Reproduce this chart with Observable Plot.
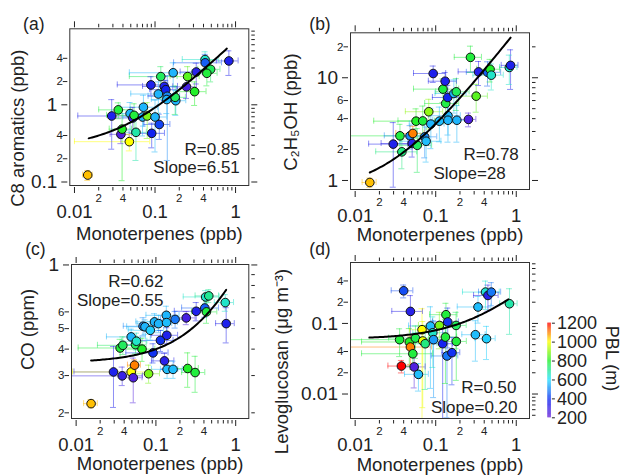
<!DOCTYPE html>
<html><head><meta charset="utf-8">
<script src="https://cdn.jsdelivr.net/npm/d3@7"></script>
<script src="https://cdn.jsdelivr.net/npm/@observablehq/plot@0.6"></script>
<style>
body{margin:0;background:#fff;}
#chart{position:relative;width:622px;height:476px;overflow:hidden;background:#fff;}
#chart svg{position:absolute;overflow:visible;}
</style></head><body><div id="chart"></div>
<script>
// ---------- colour scale (PBL, m) ----------
const pblStops = [200, 380, 600, 800, 1000, 1200];
const pblColors = ["#6a1fd8", "#1022f0", "#22e0ff", "#22f028", "#ffff00", "#ff0000"];
const pblTicks = [200, 400, 600, 800, 1000, 1200];

// ---------- shared x ticks (Monoterpenes, ppb) ----------
const xMajor = [0.01, 0.1, 1];
const xMinorLabeled = [0.02, 0.04, 0.2, 0.4];
const xMinor = [0.02, 0.03, 0.04, 0.05, 0.06, 0.07, 0.08, 0.09, 0.2, 0.3, 0.4, 0.5, 0.6, 0.7, 0.8, 0.9];

// ---------- panel (a): C8 aromatics ----------
const aMono = [0.0146, 0.029, 0.035, 0.0377, 0.039, 0.048, 0.049, 0.053, 0.058, 0.055, 0.0718, 0.07, 0.080, 0.091, 0.1, 0.089, 0.113, 0.11, 0.118, 0.13, 0.136, 0.142, 0.14, 0.168, 0.181, 0.178, 0.254, 0.246, 0.31, 0.325, 0.418, 0.42, 0.49, 0.44, 0.826];
const aC8 = [0.123, 0.716, 0.86, 0.414, 0.484, 0.333, 0.77, 0.675, 0.44, 0.73, 0.93, 0.695, 0.716, 0.427, 0.695, 1.81, 0.556, 1.38, 2.32, 1.73, 1.57, 1.29, 1.17, 2.6, 1.13, 1.25, 2.32, 1.71, 1.48, 2.66, 3.86, 3.5, 2.88, 2.56, 3.7];
const aPBL = [1050, 350, 780, 250, 800, 1000, 550, 300, 680, 780, 550, 550, 880, 380, 550, 350, 420, 550, 750, 350, 380, 500, 550, 550, 550, 750, 850, 270, 800, 330, 650, 450, 750, 780, 350];
const aMonoErr = [0.002, 0.018, 0.015, 0.01, 0.012, 0.038, 0.02, 0.025, 0.02, 0.03, 0.035, 0.03, 0.03, 0.04, 0.04, 0.055, 0.04, 0.06, 0.07, 0.06, 0.05, 0.06, 0.05, 0.12, 0.06, 0.06, 0.1, 0.08, 0.12, 0.12, 0.2, 0.25, 0.15, 0.15, 0.25];
const aC8Err = [0.018, 0.45, 0.2, 0.1, 0.38, 0.08, 0.3, 0.25, 0.25, 0.3, 0.4, 0.3, 0.35, 0.15, 0.45, 0.5, 0.2, 0.6, 0.8, 0.6, 0.5, 1.1, 0.4, 0.9, 0.4, 0.5, 0.8, 0.5, 0.5, 0.8, 1.0, 1.0, 0.9, 0.8, 1.3];
const aYMajor = [0.1, 1];
const aYMinorLabeled = [0.2, 0.4, 2, 4];
const aYMinor = [0.2, 0.3, 0.4, 0.5, 0.6, 0.7, 0.8, 0.9, 2, 3, 4, 5, 6, 7, 8, 9];

// ---------- panel (b): C2H5OH ----------
const bMono = [0.0152, 0.0297, 0.036, 0.038, 0.048, 0.052, 0.051, 0.057, 0.059, 0.069, 0.073, 0.076, 0.082, 0.087, 0.093, 0.111, 0.123, 0.131, 0.133, 0.141, 0.142, 0.142, 0.168, 0.18, 0.183, 0.255, 0.27, 0.318, 0.34, 0.44, 0.473, 0.49, 0.82, 0.85];
const bEtOH = [0.956, 2.26, 2.72, 1.9, 2.72, 2.87, 2.29, 3.78, 2.2, 3.8, 2.66, 2.41, 4.67, 3.54, 11.0, 3.78, 7.75, 9.26, 5.62, 6.43, 4.27, 3.86, 7.03, 7.3, 3.86, 3.93, 15.8, 6.62, 11.4, 11.3, 12.1, 10.6, 12.6, 13.2];
const bPBL = [1050, 350, 780, 720, 500, 1100, 330, 800, 750, 780, 500, 560, 900, 550, 350, 560, 780, 350, 770, 380, 550, 550, 560, 750, 550, 260, 780, 850, 340, 450, 800, 650, 650, 350];
const bMonoErr = [0.003, 0.015, 0.028, 0.02, 0.025, 0.02, 0.03, 0.04, 0.03, 0.035, 0.03, 0.04, 0.04, 0.04, 0.04, 0.05, 0.07, 0.05, 0.06, 0.05, 0.06, 0.05, 0.07, 0.08, 0.07, 0.06, 0.1, 0.12, 0.15, 0.2, 0.15, 0.2, 0.2, 0.2];
const bEtOHErr = [0.1, 1.4, 0.8, 0.6, 0.7, 0.5, 0.6, 1.2, 1.0, 1.5, 1.0, 0.9, 1.5, 1.5, 2.0, 1.4, 2.0, 2.0, 2.0, 2.0, 1.5, 1.5, 2.5, 2.5, 1.5, 0.6, 4.5, 2.0, 3.0, 3.0, 3.0, 3.0, 4.0, 5.5];
const bYMajor = [1, 10];
const bYMinorLabeled = [2, 4, 6, 20];
const bYMinor = [2, 3, 4, 5, 6, 7, 8, 9, 20];

// ---------- panel (c): CO ----------
const cMono = [0.0154, 0.0294, 0.0356, 0.0385, 0.0378, 0.049, 0.049, 0.054, 0.052, 0.0555, 0.057, 0.067, 0.069, 0.073, 0.085, 0.081, 0.092, 0.096, 0.108, 0.114, 0.137, 0.128, 0.135, 0.136, 0.138, 0.164, 0.174, 0.24, 0.25, 0.31, 0.32, 0.41, 0.43, 0.42, 0.46, 0.74, 0.76];
const cCO = [0.221, 0.312, 0.405, 0.417, 0.299, 0.457, 0.312, 0.336, 0.293, 0.42, 0.436, 0.4, 0.513, 0.51, 0.491, 0.306, 0.384, 0.538, 0.528, 0.44, 0.465, 0.352, 0.578, 0.534, 0.321, 0.321, 0.553, 0.562, 0.324, 0.31, 0.604, 0.626, 0.6, 0.706, 0.714, 0.664, 0.528];
const cPBL = [1050, 350, 780, 750, 300, 550, 1000, 1100, 250, 750, 650, 800, 500, 550, 580, 880, 400, 550, 550, 400, 350, 330, 550, 560, 560, 560, 480, 270, 800, 780, 350, 450, 780, 650, 700, 650, 350];
const cMonoErr = [0.003, 0.02, 0.025, 0.02, 0.03, 0.025, 0.04, 0.01, 0.015, 0.02, 0.02, 0.03, 0.03, 0.03, 0.04, 0.03, 0.05, 0.04, 0.05, 0.05, 0.05, 0.04, 0.06, 0.05, 0.05, 0.05, 0.06, 0.07, 0.09, 0.1, 0.15, 0.2, 0.15, 0.2, 0.15, 0.2, 0.2];
const cCOErr = [0.01, 0.1, 0.04, 0.04, 0.03, 0.04, 0.02, 0.02, 0.07, 0.04, 0.04, 0.05, 0.05, 0.04, 0.05, 0.03, 0.04, 0.05, 0.05, 0.05, 0.04, 0.03, 0.06, 0.05, 0.03, 0.03, 0.05, 0.04, 0.06, 0.06, 0.06, 0.06, 0.07, 0.05, 0.05, 0.06, 0.1];
const cYMajor = [1];
const cYMinorLabeled = [0.2, 0.3, 0.4, 0.5, 0.6];
const cYMinor = [0.2, 0.3, 0.4, 0.5, 0.6, 0.7, 0.8, 0.9];

// ---------- panel (d): Levoglucosan ----------
const dMono = [0.0375, 0.04, 0.0356, 0.0485, 0.047, 0.0485, 0.052, 0.054, 0.056, 0.061, 0.0676, 0.069, 0.074, 0.086, 0.092, 0.094, 0.111, 0.122, 0.132, 0.134, 0.141, 0.138, 0.159, 0.179, 0.18, 0.311, 0.335, 0.427, 0.415, 0.445, 0.49, 0.824];
const dLevo = [0.0249, 0.29, 0.0589, 0.148, 0.0546, 0.0463, 0.0372, 0.0242, 0.062, 0.019, 0.0815, 0.0564, 0.0516, 0.092, 0.0738, 0.0589, 0.0937, 0.0516, 0.0641, 0.133, 0.105, 0.0346, 0.0385, 0.0937, 0.0556, 0.0692, 0.171, 0.0608, 0.278, 0.249, 0.278, 0.19];
const dPBL = [1200, 430, 780, 330, 800, 1100, 780, 250, 760, 560, 1000, 980, 720, 560, 650, 520, 880, 370, 780, 780, 400, 480, 400, 750, 780, 560, 560, 580, 640, 330, 480, 680];
const dMonoErr = [0.012, 0.012, 0.03, 0.02, 0.035, 0.04, 0.04, 0.02, 0.03, 0.02, 0.02, 0.03, 0.03, 0.04, 0.04, 0.04, 0.05, 0.04, 0.05, 0.05, 0.05, 0.05, 0.04, 0.06, 0.06, 0.1, 0.15, 0.12, 0.2, 0.15, 0.15, 0.2];
const dLevoErr = [0.005, 0.06, 0.025, 0.1, 0.03, 0.02, 0.015, 0.012, 0.03, 0.008, 0.08, 0.05, 0.04, 0.08, 0.05, 0.05, 0.05, 0.05, 0.05, 0.06, 0.06, 0.03, 0.025, 0.05, 0.04, 0.04, 0.07, 0.03, 0.12, 0.1, 0.1, 0.12];
const dYMajor = [0.01, 0.1];
const dYMinorLabeled = [0.02, 0.04, 0.2, 0.4];
const dYMinor = [0.005, 0.006, 0.007, 0.008, 0.009, 0.02, 0.03, 0.04, 0.05, 0.06, 0.07, 0.08, 0.09, 0.2, 0.3, 0.4, 0.5, 0.6, 0.7];

// ---------- linear fits (y = intercept + slope * x) ----------
const fitR = [0.85, 0.78, 0.62, 0.50];
const fitSlope = [6.51, 28, 0.55, 0.20];
const fitIntercept = [0.27, 0.77, 0.345, 0.06];
const fitXRange = [[0.015, 0.78], [0.0152, 0.85], [0.0154, 0.76], [0.015, 0.8]];

// ---------- rendering ----------
const FONT = "'Liberation Sans', Arial, sans-serif";
const INK = "#222";
const xDomain = [0.00875, 1.46];
const fmtMajor = d => d3.format("~g")(d);
const fmtMinor = d => String(Math.round(d / Math.pow(10, Math.floor(Math.log10(d) + 1e-9))));
const fmtStat = (v, digits) => v.toFixed(digits);
const chart = document.getElementById("chart");

function panel(c) {
  const rows = c.x.map((x, i) => ({
    x, y: c.y[i], pbl: c.pbl[i],
    xlo: Math.max(x - c.xe[i], xDomain[0] / 3), xhi: x + c.xe[i],
    ylo: Math.max(c.y[i] - c.ye[i], c.yDomain[0] / 3), yhi: c.y[i] + c.ye[i]
  }));
  const k = c.idx;
  const [x0, x1] = fitXRange[k];
  const fit = d3.range(81).map(j => {
    const xv = x0 * Math.pow(x1 / x0, j / 80);
    return {x: xv, y: fitIntercept[k] + fitSlope[k] * xv};
  });
  const [fl, ft, fr, fb] = c.frame;
  const eb = {stroke: "pbl", strokeOpacity: 0.5, strokeWidth: 1, clip: true};
  const tk = {tickFormat: () => "", label: null, stroke: INK};
  const T = {fill: INK, lineAnchor: "middle"};
  const svg = Plot.plot({
    width: c.w, height: c.h,
    marginLeft: fl - c.left, marginTop: ft - c.top,
    marginRight: c.left + c.w - fr, marginBottom: c.top + c.h - fb,
    x: {type: "log", domain: xDomain, axis: null, label: null},
    y: {type: "log", domain: c.yDomain, axis: null, label: null},
    color: {type: "linear", domain: pblStops, range: pblColors},
    style: {background: "transparent", overflow: "visible", fontFamily: FONT, color: INK},
    marks: [
      Plot.ruleY(rows, {y: "y", x1: "xlo", x2: "xhi", ...eb}),
      Plot.ruleX(rows, {x: "x", y1: "ylo", y2: "yhi", ...eb}),
      Plot.ruleX(rows, {x: "xlo", y1: "y", y2: "y", insetTop: -3, insetBottom: -3, ...eb}),
      Plot.ruleX(rows, {x: "xhi", y1: "y", y2: "y", insetTop: -3, insetBottom: -3, ...eb}),
      Plot.ruleY(rows, {y: "ylo", x1: "x", x2: "x", insetLeft: -3, insetRight: -3, ...eb}),
      Plot.ruleY(rows, {y: "yhi", x1: "x", x2: "x", insetLeft: -3, insetRight: -3, ...eb}),
      Plot.dot(rows, {x: "x", y: "y", fill: "pbl", stroke: "#111", strokeWidth: 1, r: 4.3}),
      Plot.line(fit, {x: "x", y: "y", stroke: "#000", strokeWidth: 2, clip: true}),
      Plot.frame({stroke: "#333", strokeWidth: 1}),
      // axes: ticks
      Plot.axisX({ticks: xMinor, anchor: "bottom", tickSize: 3.5, dy: 2, ...tk}),
      Plot.axisX({ticks: xMajor, anchor: "bottom", tickSize: 6, dy: 2, ...tk}),
      Plot.axisX({ticks: xMinor, anchor: "top", tickSize: 3.5, dy: -2, ...tk}),
      Plot.axisX({ticks: xMajor, anchor: "top", tickSize: 6, dy: -2, ...tk}),
      Plot.axisY({ticks: c.yMinorLabeled, anchor: "left", tickSize: 4.5, dx: -2, ...tk}),
      Plot.axisY({ticks: c.yMajor, anchor: "left", tickSize: 6, dx: -2, ...tk}),
      Plot.axisY({ticks: c.yMinor, anchor: "right", tickSize: 3.5, dx: 2, ...tk}),
      Plot.axisY({ticks: c.yMajor, anchor: "right", tickSize: 6, dx: 2, ...tk}),
      // axes: labels
      Plot.text(xMajor, {x: d => d, frameAnchor: "bottom", textAnchor: "middle", dy: 27, text: fmtMajor, fontSize: 18.5, ...T}),
      Plot.text(xMinorLabeled, {x: d => d, frameAnchor: "bottom", textAnchor: "middle", dy: 13, text: fmtMinor, fontSize: 11.5, ...T}),
      Plot.text(c.yMajor, {y: d => d, frameAnchor: "left", dx: -12.5, textAnchor: "end", text: fmtMajor, fontSize: 19, ...T}),
      Plot.text(c.yMinorLabeled, {y: d => d, frameAnchor: "left", dx: -7, textAnchor: "end", text: fmtMinor, fontSize: 11.5, ...T}),
      // titles
      Plot.text([c.xTitle], {frameAnchor: "bottom", textAnchor: "middle", dy: c.xTitleDy, fontSize: 18.5, ...T}),
      Plot.text([c.yTitle], {frameAnchor: "left", textAnchor: "middle", rotate: -90, dx: c.yTitleDx, dy: c.yTitleDy, fontSize: 18.5, ...T}),
      Plot.text([c.tag], {frameAnchor: "top-left", textAnchor: "middle", dx: c.tagDx, dy: c.tagDy, fontSize: 17.5, ...T}),
      Plot.text(["R=" + fmtStat(fitR[k], 2)], {frameAnchor: c.statAnchor, textAnchor: c.statText, dx: c.rDx, dy: c.rDy, fontSize: 17, ...T}),
      Plot.text(["Slope=" + fmtStat(fitSlope[k], c.slopeDigits)], {frameAnchor: c.statAnchor, textAnchor: c.statText, dx: c.sDx, dy: c.sDy, fontSize: 17, ...T})
    ]
  });
  svg.style.left = c.left + "px";
  svg.style.top = c.top + "px";
  chart.appendChild(svg);
}

panel({idx: 0, left: 0, top: 0, w: 300, h: 245, frame: [69.3, 28.3, 248.3, 185],
  x: aMono, y: aC8, pbl: aPBL, xe: aMonoErr, ye: aC8Err, yDomain: [0.0901, 9.65],
  yMajor: aYMajor, yMinorLabeled: aYMinorLabeled, yMinor: aYMinor,
  xTitle: "Monoterpenes (ppb)", xTitleDy: 49, yTitle: "C8 aromatics (ppb)", yTitleDx: -52, yTitleDy: 21,
  tag: "(a)", tagDx: -36, tagDy: -4, slopeDigits: 2,
  statAnchor: "bottom-right", statText: "end", rDx: -9, rDy: -36, sDx: -9, sDy: -18});

panel({idx: 1, left: 300, top: 0, w: 322, h: 245, frame: [350, 32.3, 529, 189],
  x: bMono, y: bEtOH, pbl: bPBL, xe: bMonoErr, ye: bEtOHErr, yDomain: [0.817, 27.4],
  yMajor: bYMajor, yMinorLabeled: bYMinorLabeled, yMinor: bYMinor,
  xTitle: "Monoterpenes (ppb)", xTitleDy: 46, yTitle: "C₂H₅OH (ppb)", yTitleDx: -59, yTitleDy: 1,
  tag: "(b)", tagDx: -30.5, tagDy: -8, slopeDigits: 0,
  statAnchor: "bottom-left", statText: "start", rDx: 113, rDy: -34.5, sDx: 83, sDy: -15.7});

panel({idx: 2, left: 0, top: 245, w: 300, h: 231, frame: [71, 264, 248.3, 418],
  x: cMono, y: cCO, pbl: cPBL, xe: cMonoErr, ye: cCOErr, yDomain: [0.188, 1.005],
  yMajor: cYMajor, yMinorLabeled: cYMinorLabeled, yMinor: cYMinor,
  xTitle: "Monoterpenes (ppb)", xTitleDy: 46, yTitle: "CO (ppm)", yTitleDx: -43, yTitleDy: -12,
  tag: "(c)", tagDx: -36, tagDy: -15, slopeDigits: 2,
  statAnchor: "top-left", statText: "end", rDx: 92, rDy: 17.5, sDx: 92, sDy: 36});

panel({idx: 3, left: 300, top: 245, w: 322, h: 231, frame: [350, 262, 529, 418],
  x: dMono, y: dLevo, pbl: dPBL, xe: dMonoErr, ye: dLevoErr, yDomain: [0.0045, 0.73],
  yMajor: dYMajor, yMinorLabeled: dYMinorLabeled, yMinor: dYMinor,
  xTitle: "Monoterpenes (ppb)", xTitleDy: 47, yTitle: "Levoglucosan (μg m⁻³)", yTitleDx: -68, yTitleDy: 21,
  tag: "(d)", tagDx: -30.5, tagDy: -13, slopeDigits: 2,
  statAnchor: "bottom-right", statText: "end", rDx: -13, rDy: -30.5, sDx: -12, sDy: -10.5});

// ---------- colour bar ----------
const ramp = d3.range(pblStops[0], pblStops[pblStops.length - 1], 5);
const cb = Plot.plot({
  width: 82, height: 140,
  marginLeft: 7.3, marginRight: 71.1, marginTop: 22.7, marginBottom: 22.7,
  x: {domain: [0, 1], axis: null},
  y: {domain: [200, 1200], axis: null},
  color: {type: "linear", domain: pblStops, range: pblColors},
  style: {background: "transparent", overflow: "visible", fontFamily: FONT, color: INK},
  marks: [
    Plot.rect(ramp, {x1: 0, x2: 1, y1: d => d, y2: d => d + 5.5, fill: d => d + 2.5}),
    Plot.axisY({ticks: pblTicks, anchor: "right", tickSize: 3, tickPadding: 2.5, fontSize: 18, label: null, stroke: INK, fill: INK, tickFormat: d => String(d)}),
    Plot.text(["PBL (m)"], {frameAnchor: "right", textAnchor: "middle", lineAnchor: "middle", rotate: 90, dx: 60, dy: -12, fontSize: 18, fill: INK})
  ]
});
cb.style.left = "540px";
cb.style.top = "300px";
chart.appendChild(cb);
</script></body></html>
